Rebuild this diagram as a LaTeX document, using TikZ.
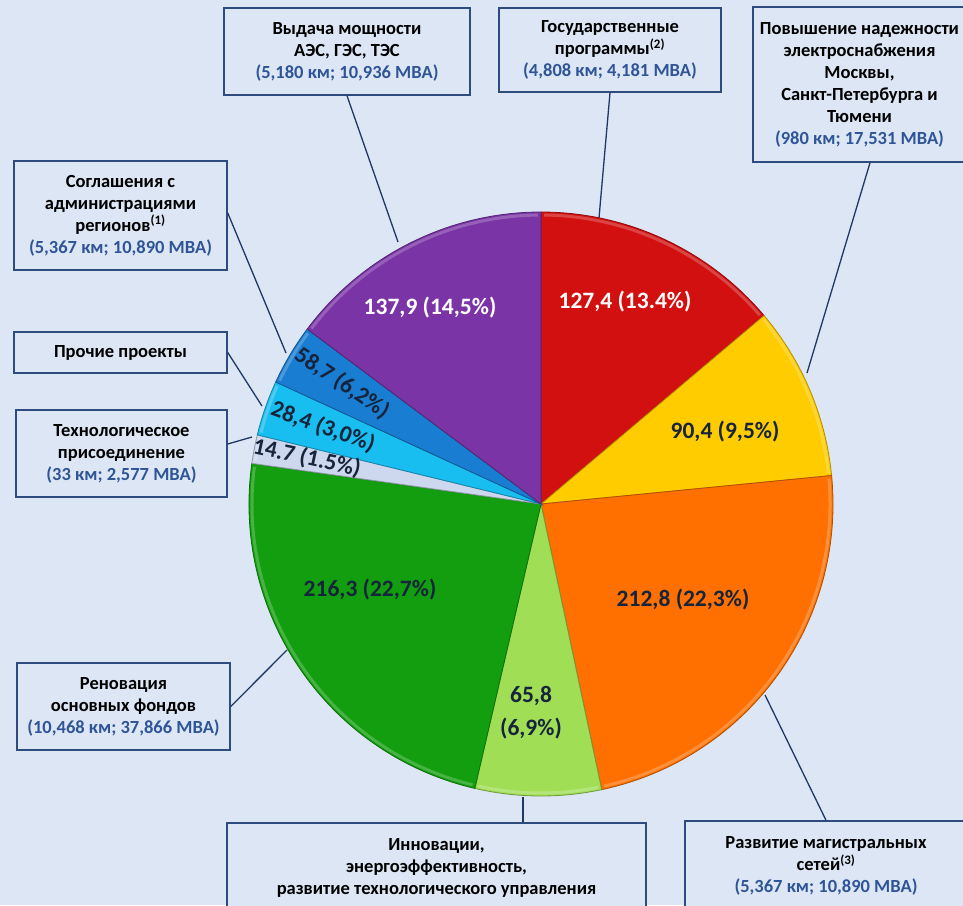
\documentclass[tikz,border=0pt]{standalone}
\usepackage{fontspec}
\setmainfont{Carlito}
\usetikzlibrary{calc}
\definecolor{bg}{RGB}{220,230,244}
\definecolor{boxline}{RGB}{45,75,125}
\definecolor{conn}{RGB}{31,56,100}
\definecolor{bluetxt}{RGB}{47,85,151}
\definecolor{navy}{RGB}{22,36,60}
\definecolor{cred}{RGB}{210,16,16}
\definecolor{cyellow}{RGB}{255,204,0}
\definecolor{corange}{RGB}{255,112,0}
\definecolor{clgreen}{RGB}{160,222,85}
\definecolor{cgreen}{RGB}{18,158,14}
\definecolor{clblue}{RGB}{205,215,238}
\definecolor{ccyan}{RGB}{25,190,240}
\definecolor{cblue}{RGB}{25,125,210}
\definecolor{cpurple}{RGB}{122,52,165}
\begin{document}
\begin{tikzpicture}[x=1pt,y=-1pt,
  infobox/.style={draw=boxline, line width=1.5pt, fill=bg, inner sep=0pt, align=center,
    font=\fontsize{18.5}{22}\selectfont\bfseries},
  conline/.style={draw=conn, line width=1.3pt},
  slicelbl/.style={font=\fontsize{23.5}{33}\selectfont\bfseries, text=navy, align=center, inner sep=0pt}]
\clip (0,0) rectangle (963,905);
\fill[bg] (0,0) rectangle (963,905);

% boxes
\node[infobox, minimum width=246, minimum height=87] (b1) at (347,51.5)
  {Выдача мощности\\АЭС, ГЭС, ТЭС\\\textcolor{bluetxt}{(5,180 км; 10,936 МВА)}};
\node[infobox, minimum width=222, minimum height=84] (b2) at (610,50)
  {Государственные\\программы\textsuperscript{(2)}\\\textcolor{bluetxt}{(4,808 км; 4,181 МВА)}};
\node[infobox, minimum width=213, minimum height=155] (b3) at (859.5,84.5)
  {Повышение надежности\\электроснабжения\\Москвы,\\Санкт-Петербурга и\\Тюмени\\\textcolor{bluetxt}{(980 км; 17,531 МВА)}};
\node[infobox, minimum width=213, minimum height=109] (b4) at (120.5,215.5)
  {Соглашения с\\администрациями\\регионов\textsuperscript{(1)}\\\textcolor{bluetxt}{(5,367 км; 10,890 МВА)}};
\node[infobox, minimum width=213, minimum height=41] (b5) at (120.5,352.5)
  {Прочие проекты};
\node[infobox, minimum width=211, minimum height=87] (b6) at (121.5,453.5)
  {Технологическое\\присоединение\\\textcolor{bluetxt}{(33 км; 2,577 МВА)}};
\node[infobox, minimum width=213, minimum height=87] (b7) at (123.5,706.5)
  {Реновация\\основных фондов\\\textcolor{bluetxt}{(10,468 км; 37,866 МВА)}};
\node[infobox, minimum width=419, minimum height=90] (b8) at (436.5,868)
  {Инновации,\\энергоэффективность,\\развитие технологического управления};
\node[infobox, minimum width=282, minimum height=90] (b9) at (826,866)
  {Развитие магистральных\\сетей\textsuperscript{(3)}\\\textcolor{bluetxt}{(5,367 км; 10,890 МВА)}};

% connector end points on the pie
\coordinate (e1) at (398,242);
\coordinate (e2) at (599,218);
\coordinate (e3) at (807,373);
\coordinate (e4) at (286,353);
\coordinate (e5) at (262,406);
\coordinate (e6) at (252,437);
\coordinate (e7) at (287,650);
\coordinate (e8) at (523,797);
\coordinate (e9) at (765,695);

\draw[conline] (b1.south) -- (e1);
\draw[conline] (b2.south) -- (e2);
\draw[conline] ([xshift=10.5pt]b3.south) -- (e3);
\draw[conline] ([yshift=2.5pt]b4.east) -- (e4);
\draw[conline] (b5.east) -- (e5);
\draw[conline] ([yshift=9.5pt]b6.east) -- (e6);
\draw[conline] (b7.east) -- (e7);
\draw[conline] (b8.north -| e8) -- (e8);
\draw[conline] (b9.north) -- (e9);

% pie
\coordinate (c) at (541,504);
\def\R{292}
\foreach \a/\b/\col in {-90/-40.2/cred, -40.2/-5.6/cyellow, -5.6/78/corange,
    78/103.1/clgreen, 103.1/188/cgreen, 188/193.7/clblue, 193.7/204.7/ccyan,
    204.7/216.8/cblue, 216.8/270/cpurple}{
  \fill[\col] (c) -- ++(\a:\R) arc[start angle=\a, end angle=\b, radius=\R] -- cycle;
  \draw[\col!60!white, line width=3pt, opacity=0.55]
    ($(c)+(\a+0.6:\R-3)$) arc[start angle=\a+0.6, end angle=\b-0.6, radius=\R-3];
  \draw[\col!70!black, line width=0.8pt] (c) -- ++(\a:\R) arc[start angle=\a, end angle=\b, radius=\R] -- cycle;
}

% slice labels
\node[slicelbl, text=white] (l1) at (625,302) {127,4 (13.4\%)};
\node[slicelbl] (l2) at (725,432) {90,4 (9,5\%)};
\node[slicelbl] (l3) at (683,600) {212,8 (22,3\%)};
\node[slicelbl] (l4) at (531,713) {65,8\\(6,9\%)};
\node[slicelbl] (l5) at (370,590) {216,3 (22,7\%)};
\node[slicelbl, rotate=-12] (l6) at (307,458) {14.7 (1.5\%)};
\node[slicelbl, rotate=-20] (l7) at (323,427) {28,4 (3,0\%)};
\node[slicelbl, rotate=-34] (l8) at (342,383) {58,7 (6,2\%)};
\node[slicelbl, text=white] (l9) at (430,308) {137,9 (14,5\%)};
\end{tikzpicture}
\end{document}
